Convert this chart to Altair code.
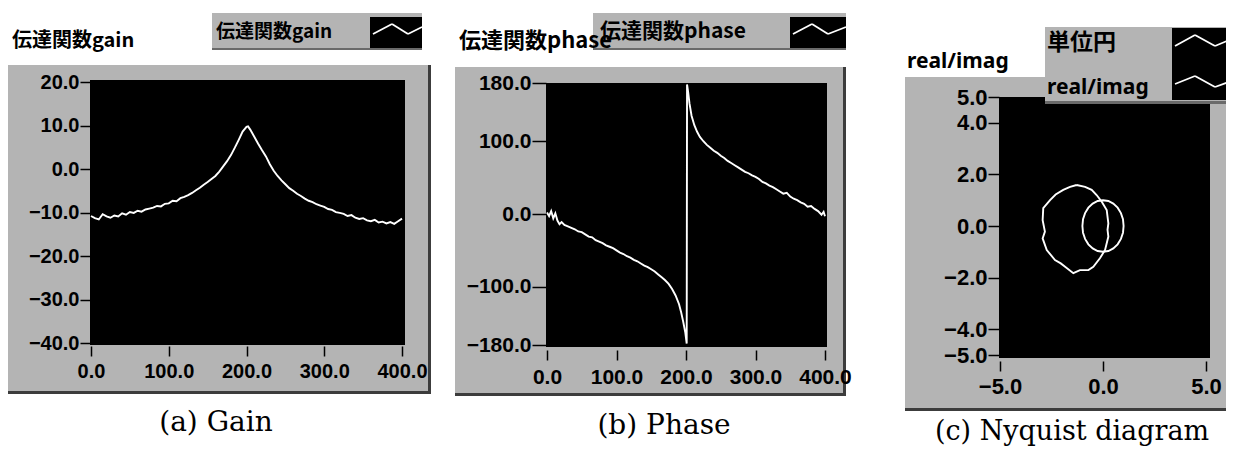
import altair as alt
import pandas as pd

# ---------------- data ----------------
gain_freq = [0, 5, 10, 15, 20, 25, 30, 35, 40, 45, 50, 55, 60, 65, 70, 75, 80, 85, 90, 95,
             100, 105, 110, 115, 120, 125, 130, 135, 140, 145, 150, 155, 160, 165, 170, 175,
             180, 185, 190, 195, 200, 202, 205, 210, 215, 220, 225, 230, 235, 240, 245, 250,
             255, 260, 265, 270, 275, 280, 285, 290, 295, 300, 305, 310, 315, 320, 325, 330,
             335, 340, 345, 350, 355, 360, 365, 370, 375, 380, 385, 390, 395, 400]
gain_db = [-10.8, -11.3, -11.6, -10.4, -10.9, -11.2, -10.7, -10.9, -10.2, -10.5, -9.9, -10.1,
           -9.6, -9.8, -9.3, -9.1, -8.9, -8.5, -8.6, -8.0, -7.9, -7.3, -7.4, -6.7, -6.4, -6.0,
           -5.5, -4.9, -4.3, -3.6, -3.0, -2.3, -1.6, -0.6, 0.6, 1.8, 3.2, 4.9, 6.7, 8.6, 9.7,
           9.8,
           9.0, 7.4, 5.8, 4.3, 2.9, 1.1, -0.4, -1.6, -2.6, -3.5, -4.4, -5.0, -5.7, -6.2, -6.8,
           -7.3, -7.6, -8.1, -8.4, -8.7, -9.2, -9.4, -9.9, -10.1, -10.3, -10.8, -10.6, -11.2,
           -11.5, -11.3, -11.8, -12.0, -11.7, -12.3, -12.1, -12.5, -12.2, -12.6, -12.0, -11.4]

phase_freq = [0, 3, 6, 9, 12, 15, 18, 21, 25, 30, 35, 40, 45, 50, 55, 60, 65, 70, 75, 80, 85,
              90, 95, 100, 105, 110, 115, 120, 125, 130, 135, 140, 145, 150, 155, 160, 165, 170,
              175, 180, 185, 190, 193, 196, 199, 201, 201.5, 203, 205, 208, 212, 216, 220, 225,
              230, 235, 240, 245, 250, 255, 260, 265, 270, 275, 280, 285, 290, 295, 300, 305,
              310, 315, 320, 325, 330, 335, 340, 345, 350, 355, 360, 365, 370, 375, 380, 385,
              390, 395, 398, 400]
phase_deg = [2, -3, 4, -6, 1, -9, -14, -11, -15, -17, -19, -21, -24, -25, -28, -31, -32, -36,
             -38, -40, -43, -45, -47, -50, -53, -55, -58, -60, -63, -65, -68, -71, -73, -76, -79,
             -83, -87, -91, -96, -103, -112, -124, -135, -148, -163, -178, 178, 168, 152, 135,
             122, 113, 106, 100, 95, 91, 87, 84, 80, 77, 73, 70, 67, 64, 61, 58, 56, 53, 51, 48,
             44, 42, 39, 37, 34, 31, 28, 29, 24, 21, 19, 16, 14, 10, 11, 7, 4, -1, 3, -3]

nyq_re = [-1.28, -1.60, -1.93, -2.30, -2.57, -2.90, -2.93, -2.82, -2.93, -2.73, -2.33, -2.05,
          -1.84, -1.44, -1.12, -0.71, -0.47, -0.15, 0.10, 0.26, 0.22, 0.26, 0.18, -0.06, -0.31,
          -0.55, -0.87, -1.28]
nyq_im = [1.59, 1.52, 1.40, 1.22, 1.00, 0.69, 0.23, -0.22, -0.48, -0.93, -1.32, -1.45, -1.58,
          -1.83, -1.71, -1.71, -1.58, -1.25, -0.93, -0.41, -0.15, 0.10, 0.62, 0.94, 1.20, 1.40,
          1.52, 1.59]

circle_re = [1.0, 0.97, 0.87, 0.71, 0.5, 0.26, 0.0, -0.26, -0.5, -0.71, -0.87, -0.97, -1.0,
             -0.97, -0.87, -0.71, -0.5, -0.26, 0.0, 0.26, 0.5, 0.71, 0.87, 0.97, 1.0]
circle_im = [0.0, 0.26, 0.5, 0.71, 0.87, 0.97, 1.0, 0.97, 0.87, 0.71, 0.5, 0.26, 0.0, -0.26,
             -0.5, -0.71, -0.87, -0.97, -1.0, -0.97, -0.87, -0.71, -0.5, -0.26, 0.0]

gain_ticks = [20, 10, 0, -10, -20, -30, -40]
freq_ticks = [0, 100, 200, 300, 400]
phase_ticks = [180, 100, 0, -100, -180]
nyq_y_ticks = [5, 4, 2, 0, -2, -4, -5]
nyq_x_ticks = [-5, 0, 5]

titles = ["伝達関数gain", "伝達関数phase", "real/imag"]
legend_labels = ["伝達関数gain", "伝達関数phase", "単位円", "real/imag"]
captions = ["(a) Gain", "(b) Phase", "(c) Nyquist diagram"]

# ---------------- layout ----------------
M = 8
W, H = 1218, 442
GRAY = "#b4b4b4"
DARK = "#3c3c3c"
one = pd.DataFrame({"k": [0]})


def rect(x0, y0, x1, y1, color):
    return alt.Chart(one).mark_rect(color=color).encode(
        x=alt.value(x0 - M), x2=alt.value(x1 - M),
        y=alt.value(y0 - M), y2=alt.value(y1 - M))


def seg(x0, y0, x1, y1, w=1.8):
    return alt.Chart(one).mark_rule(color="white", strokeWidth=w).encode(
        x=alt.value(x0 - M), x2=alt.value(x1 - M),
        y=alt.value(y0 - M), y2=alt.value(y1 - M))


def text(t, x, y, size, font, weight="normal", align="left"):
    return alt.Chart(one).mark_text(
        text=t, font=font, fontSize=size, fontWeight=weight, align=align,
        baseline="middle", color="black").encode(x=alt.value(x - M), y=alt.value(y - M))


def zig(pts):
    return [seg(pts[i][0], pts[i][1], pts[i + 1][0], pts[i + 1][1]) for i in range(len(pts) - 1)]


AX = dict(format=".1f", domain=False, grid=False, title=None, labelFont="Liberation Sans",
          labelFontWeight="bold", labelColor="black", tickColor="black", tickWidth=1.5,
          labelOverlap=False, labelFlush=False, zindex=1)


def left_axis(values, edge, tick, pad, fs):
    return alt.Axis(orient="left", values=values, offset=-(edge - M), tickSize=tick,
                    labelPadding=pad, labelFontSize=fs, **AX)


def bottom_axis(values, edge, tick, pad, fs):
    return alt.Axis(orient="bottom", values=values, offset=(edge - M) - H, tickSize=tick,
                    labelPadding=pad, labelFontSize=fs, **AX)


def sc(domain, r0, r1):
    return alt.Scale(domain=domain, range=[r0 - M, r1 - M], nice=False, zero=False)


# ---------------- background decorations ----------------
bg = [
    # frames
    rect(8, 65, 431, 394, GRAY), rect(8, 391, 431, 394, DARK), rect(428, 65, 431, 394, DARK),
    rect(455, 67, 846, 396, GRAY), rect(455, 393, 846, 396, DARK), rect(843, 67, 846, 396, DARK),
    rect(905, 77, 1234, 411, GRAY), rect(905, 408, 1234, 411, DARK),
    # plot areas
    rect(90, 80, 405, 345, "black"),
    rect(546, 83, 827, 347, "black"),
    rect(999, 97, 1210, 358, "black"),
    # legend boxes
    rect(212, 13, 422, 50, GRAY), rect(212, 48, 422, 50, "#6a6a6a"),
    rect(370, 17, 422, 48, "black"),
    rect(593, 13, 846, 50, GRAY), rect(593, 48, 846, 50, "#6a6a6a"),
    rect(790, 17, 846, 48, "black"),
    rect(1045, 27, 1234, 104, GRAY), rect(1045, 101, 1234, 104, "#6a6a6a"),
    rect(1172, 28, 1234, 100, "black"),
]
bg += zig([(373, 34), (392, 24), (408, 34), (422, 27)])
bg += zig([(793, 34), (812, 24), (828, 34), (846, 27)])
bg += zig([(1175, 46), (1195, 35), (1215, 46), (1234, 38)])
bg += zig([(1175, 84), (1195, 76), (1215, 87), (1234, 80)])

# ---------------- data panels ----------------
LW = 1.9
gain_df = pd.DataFrame({"f": gain_freq, "g": gain_db})
panel_a = alt.Chart(gain_df).mark_line(color="white", strokeWidth=LW).encode(
    x=alt.X("f:Q", scale=sc([0, 400], 91, 402), axis=bottom_axis(freq_ticks, 346, 10, 5, 20)),
    y=alt.Y("g:Q", scale=sc([-40, 20], 343, 82), axis=left_axis(gain_ticks, 90, 10, 1, 20)),
)

phase_df = pd.DataFrame({"f": phase_freq, "p": phase_deg, "i": range(len(phase_freq))})
panel_b = alt.Chart(phase_df).mark_line(color="white", strokeWidth=LW).encode(
    x=alt.X("f:Q", scale=sc([0, 400], 547, 825), axis=bottom_axis(freq_ticks, 350, 10, 6, 21)),
    y=alt.Y("p:Q", scale=sc([-180, 180], 345, 83), axis=left_axis(phase_ticks, 546, 14, 1, 21)),
    order="i:Q",
)

nyq_df = pd.concat([
    pd.DataFrame({"re": circle_re, "im": circle_im, "s": legend_labels[2],
                  "i": range(len(circle_re))}),
    pd.DataFrame({"re": nyq_re, "im": nyq_im, "s": legend_labels[3], "i": range(len(nyq_re))}),
])
panel_c = alt.Chart(nyq_df).mark_line(color="white", strokeWidth=LW).encode(
    x=alt.X("re:Q", scale=sc([-5, 5], 1000, 1206), axis=bottom_axis(nyq_x_ticks, 361, 10, 5, 22)),
    y=alt.Y("im:Q", scale=sc([-5, 5], 355, 97), axis=left_axis(nyq_y_ticks, 999, 11, 1, 22)),
    detail="s:N",
    order="i:Q",
)

# ---------------- foreground texts ----------------
CJK = "Noto Sans CJK JP"
SERIF = "DejaVu Serif"
fg = [
    text(titles[0], 12, 41, 20, CJK, "bold"),
    text(legend_labels[0], 216, 32, 19, CJK, "bold"),
    text(titles[1], 459, 41, 22, CJK, "bold"),
    text(legend_labels[1], 600, 32, 21, CJK, "bold"),
    text(titles[2], 907, 62, 21, "Noto Sans", "bold"),
    text(legend_labels[2], 1047, 43, 23, CJK, "bold"),
    text(legend_labels[3], 1047, 88, 21, "Noto Sans", "bold"),
    text(captions[0], 216, 423, 28, SERIF, "normal", "center"),
    text(captions[1], 664, 426, 28, SERIF, "normal", "center"),
    text(captions[2], 1072, 432, 27, SERIF, "normal", "center"),
]

chart = alt.layer(*bg, panel_a, panel_b, panel_c, *fg).resolve_scale(
    x="independent", y="independent"
).properties(
    width=W, height=H, padding=0, background="white",
    autosize=alt.AutoSizeParams(type="none"),
).configure_view(stroke=None)

chart.save("out.html", embed_options={"renderer": "svg", "actions": False})
